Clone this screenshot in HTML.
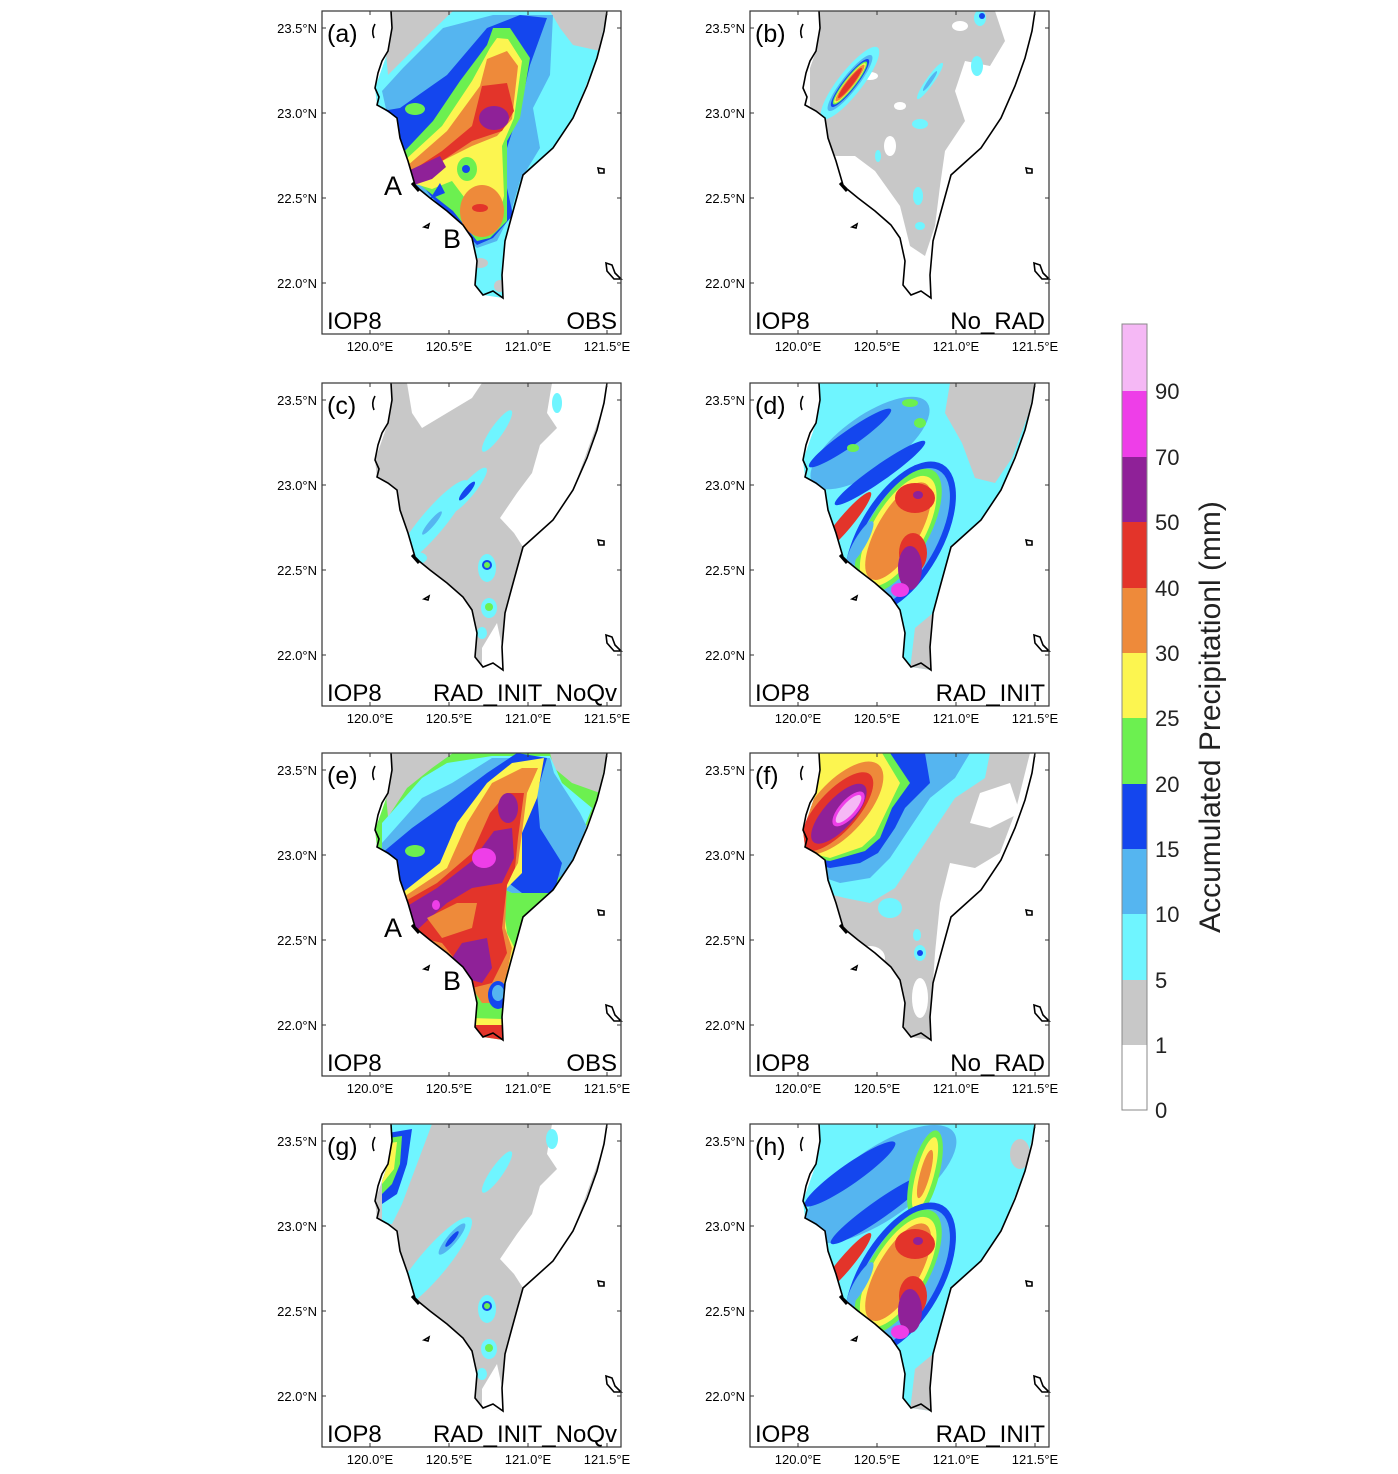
<!DOCTYPE html>
<html><head><meta charset="utf-8"><style>
html,body{margin:0;padding:0;background:#fff}
svg{display:block}
text{font-family:"Liberation Sans",sans-serif}
</style></head><body>
<svg width="1398" height="1474" viewBox="0 0 1398 1474" xmlns="http://www.w3.org/2000/svg">
<defs>
<clipPath id="land"><path d="M69,0.5 L70,17 L66,40 L53,77 L55,94 L75,107 L78,127 L86,150 L93,174 L108,187 L125,200 L141,214 L150,227 L155,250 L153,274 L161,284 L181,287 L180,264 L183,230 L190,204 L201,164 L231,137 L251,107 L275,47 L285,0.5 Z"/></clipPath>
<g id="coast" fill="none" stroke="#000" stroke-width="1.6">
<path d="M69,0 L70,17 L66,40 L60,50 L56,62 L53,77 L57,86 L55,94 L66,100 L75,107 L78,127 L86,150 L93,174 L97,178 L108,187 L125,200 L141,214 L150,227 L155,250 L153,274 L161,284 L171,280 L181,287 L180,264 L183,230 L190,204 L201,164 L231,137 L251,107 L265,75 L275,47 L282,20 L285,0"/>
<path d="M53,13 Q49,20 52,27"/>
<path d="M102,216 L107,213 L106,217 Z"/>
<path d="M276,157 L282,158 L282,162 L277,162 Z"/>
<path d="M284,252 L290,254 L293,262 L299,268 L292,268 L285,260 Z"/>
<path d="M90,172 L97,180" stroke-width="3"/>
</g>
<g id="frame"><rect x="0" y="0" width="299" height="323" fill="none" stroke="#333" stroke-width="1.2"/>
<path d="M0,17 h4 M0,102 h4 M0,187 h4 M0,272 h4 M299,17 h-4 M299,102 h-4 M299,187 h-4 M299,272 h-4 M48,323 v-4 M127,323 v-4 M206,323 v-4 M285,323 v-4 M48,0 v4 M127,0 v4 M206,0 v4 M285,0 v4" stroke="#333" stroke-width="1"/>
<g font-size="13" fill="#000" text-anchor="end"><text x="-5" y="22">23.5°N</text><text x="-5" y="107">23.0°N</text><text x="-5" y="192">22.5°N</text><text x="-5" y="277">22.0°N</text></g>
<g font-size="13" fill="#000" text-anchor="middle"><text x="48" y="340">120.0°E</text><text x="127" y="340">120.5°E</text><text x="206" y="340">121.0°E</text><text x="285" y="340">121.5°E</text></g>
</g>
</defs>

<!-- (a) -->
<g transform="translate(322,11)">
<g clip-path="url(#land)">
<rect x="0" y="0" width="299" height="323" fill="#6ff5ff"/>
<path d="M60,0 L131,0 L110,20 L85,45 L66,64 Z" fill="#c8c8c8"/>
<path d="M228,0 L290,0 L278,40 L251,34 L238,17 Z" fill="#c8c8c8"/>
<path d="M60,80 L81,57 L121,17 L171,4 L231,4 L228,64 L211,97 L218,137 L198,170 L188,204 L175,230 L155,237 L120,205 L80,170 Z" fill="#55b5f0"/>
<path d="M60,100 L78,97 L125,64 L165,17 L198,4 L225,7 L208,54 L198,97 L185,137 L185,177 L191,204 L171,227 L155,234 L108,184 L85,154 Z" fill="#1446ee"/>
<path d="M78,145 L111,110 L138,70 L165,34 L171,17 L188,17 L208,47 L198,107 L185,130 L185,184 L185,210 L168,227 L155,230 L131,200 L98,174 L80,170 Z" fill="#6cf050"/>
<ellipse cx="93" cy="98" rx="10" ry="6" fill="#6cf050"/>
<path d="M82,150 L120,115 L150,70 L168,37 L175,27 L186,28 L200,50 L192,107 L180,135 L182,185 L175,215 L160,222 L145,190 L130,170 L110,178 L90,172 Z" fill="#fcf550"/>
<ellipse cx="145" cy="158" rx="10" ry="12" fill="#6cf050"/>
<circle cx="144" cy="158" r="4" fill="#1446ee"/>
<path d="M123,182 L108,188 L118,172 Z" fill="#1446ee"/>
<path d="M85,155 L125,120 L158,75 L165,48 L185,40 L196,55 L190,108 L175,125 L150,135 L120,150 L100,165 L88,172 Z" fill="#ee8a3a"/>
<ellipse cx="160" cy="200" rx="22" ry="26" fill="#ee8a3a"/>
<path d="M85,163 L120,140 L150,115 L160,75 L185,72 L192,100 L180,120 L150,130 L120,150 L100,170 L88,174 Z" fill="#e3342a"/>
<ellipse cx="158" cy="197" rx="8" ry="4" fill="#e3342a"/>
<ellipse cx="172" cy="107" rx="15" ry="12" fill="#8f2198"/>
<path d="M86,160 L118,145 L124,156 L110,168 L92,174 Z" fill="#8f2198"/>
<ellipse cx="158" cy="252" rx="8" ry="5" fill="#c8c8c8"/>
<ellipse cx="178" cy="275" rx="6" ry="6" fill="#c8c8c8"/>
</g>
<use href="#coast"/><use href="#frame"/>
<text x="5" y="31" font-size="25">(a)</text>
<text x="5" y="318" font-size="24">IOP8</text><text x="295" y="318" font-size="24" text-anchor="end">OBS</text>
<text x="62" y="184" font-size="27">A</text><text x="121" y="237" font-size="27">B</text>
</g>

<!-- (b) -->
<g transform="translate(750,11)">
<g clip-path="url(#land)">
<path d="M60,0 L245,0 L255,30 L240,55 L215,50 L205,80 L215,110 L195,140 L190,175 L185,215 L175,245 L160,235 L150,195 L125,160 L105,145 L85,145 L70,110 L60,95 Z" fill="#c8c8c8"/>
<ellipse cx="120" cy="65" rx="8" ry="4" fill="#fff"/>
<ellipse cx="150" cy="95" rx="6" ry="4" fill="#fff"/>
<ellipse cx="140" cy="135" rx="6" ry="10" fill="#fff"/>
<ellipse cx="210" cy="15" rx="8" ry="5" fill="#fff"/>
<g transform="rotate(-52 100 72)">
<ellipse cx="100" cy="72" rx="45" ry="12" fill="#6ff5ff"/>
<ellipse cx="100" cy="72" rx="35" ry="8" fill="#55b5f0"/>
<ellipse cx="100" cy="72" rx="30" ry="6.5" fill="#1446ee"/>
<ellipse cx="100" cy="72" rx="27" ry="5.5" fill="#6cf050"/>
<ellipse cx="100" cy="72" rx="25" ry="4.5" fill="#fcf550"/>
<ellipse cx="100" cy="72" rx="23" ry="4" fill="#ee8a3a"/>
<ellipse cx="100" cy="72" rx="19" ry="3" fill="#e3342a"/>
</g>
<g transform="rotate(-55 180 70)"><ellipse cx="180" cy="70" rx="22" ry="4" fill="#6ff5ff"/><ellipse cx="180" cy="70" rx="12" ry="2" fill="#55b5f0"/></g>
<ellipse cx="227" cy="55" rx="6" ry="10" fill="#6ff5ff"/>
<ellipse cx="230" cy="7" rx="6" ry="8" fill="#6ff5ff"/><ellipse cx="232" cy="5" rx="3" ry="3" fill="#1446ee"/>
<ellipse cx="170" cy="113" rx="8" ry="5" fill="#6ff5ff"/>
<ellipse cx="168" cy="185" rx="5" ry="9" fill="#6ff5ff"/>
<ellipse cx="170" cy="215" rx="5" ry="4" fill="#6ff5ff"/>
<ellipse cx="128" cy="145" rx="3" ry="6" fill="#6ff5ff"/>
</g>
<use href="#coast"/><use href="#frame"/>
<text x="5" y="31" font-size="25">(b)</text>
<text x="5" y="318" font-size="24">IOP8</text><text x="295" y="318" font-size="24" text-anchor="end">No_RAD</text>
</g>

<!-- (c) -->
<g transform="translate(322,383)">
<g clip-path="url(#land)">
<rect x="0" y="0" width="299" height="323" fill="#c8c8c8"/>
<path d="M230,0 L290,0 L251,107 L231,137 L201,164 L192,150 L178,135 L195,110 L210,90 L218,62 L235,45 L225,30 Z" fill="#fff"/>
<path d="M85,0 L160,0 L150,15 L125,30 L100,45 L90,30 Z" fill="#fff"/>
<path d="M160,265 L175,240 L185,287 L160,287 Z" fill="#fff"/>
<g transform="rotate(-50 110 140)"><ellipse cx="110" cy="140" rx="55" ry="12" fill="#6ff5ff"/><ellipse cx="110" cy="140" rx="15" ry="3" fill="#55b5f0"/></g>
<g transform="rotate(-50 145 108)"><ellipse cx="145" cy="108" rx="30" ry="7" fill="#6ff5ff"/><ellipse cx="145" cy="108" rx="12" ry="3" fill="#1446ee"/></g>
<g transform="rotate(-55 175 48)"><ellipse cx="175" cy="48" rx="25" ry="6" fill="#6ff5ff"/></g>
<ellipse cx="235" cy="20" rx="5" ry="10" fill="#6ff5ff"/>
<ellipse cx="95" cy="175" rx="10" ry="6" fill="#6ff5ff"/>
<ellipse cx="165" cy="185" rx="9" ry="14" fill="#6ff5ff"/><ellipse cx="165" cy="182" rx="5" ry="5" fill="#1446ee"/><ellipse cx="165" cy="182" rx="3" ry="3" fill="#6cf050"/>
<ellipse cx="167" cy="225" rx="8" ry="10" fill="#6ff5ff"/><ellipse cx="167" cy="224" rx="4" ry="4" fill="#6cf050"/>
<ellipse cx="160" cy="250" rx="5" ry="6" fill="#6ff5ff"/>
</g>
<use href="#coast"/><use href="#frame"/>
<text x="5" y="31" font-size="25">(c)</text>
<text x="5" y="318" font-size="24">IOP8</text><text x="295" y="318" font-size="24" text-anchor="end">RAD_INIT_NoQv</text>
</g>

<!-- (d) -->
<g transform="translate(750,383)">
<g clip-path="url(#land)">
<rect x="0" y="0" width="299" height="323" fill="#6ff5ff"/>
<path d="M200,0 L290,0 L262,75 L245,100 L225,95 L212,60 L195,30 Z" fill="#c8c8c8"/>
<path d="M165,245 L183,230 L181,287 L160,287 Z" fill="#c8c8c8"/>
<g transform="rotate(-35 120 60)"><ellipse cx="120" cy="60" rx="70" ry="28" fill="#55b5f0"/></g>
<g transform="rotate(-35 100 55)"><ellipse cx="100" cy="55" rx="50" ry="8" fill="#1446ee"/></g>
<g transform="rotate(-35 130 90)"><ellipse cx="130" cy="90" rx="55" ry="8" fill="#1446ee"/></g>
<ellipse cx="160" cy="20" rx="8" ry="4" fill="#6cf050"/>
<ellipse cx="170" cy="40" rx="6" ry="5" fill="#6cf050"/>
<ellipse cx="103" cy="65" rx="6" ry="4" fill="#6cf050"/>
<g transform="rotate(-60 150 155)">
<ellipse cx="150" cy="155" rx="85" ry="42" fill="#1446ee"/>
<ellipse cx="150" cy="155" rx="78" ry="36" fill="#55b5f0"/>
<ellipse cx="155" cy="150" rx="70" ry="30" fill="#6cf050"/>
<ellipse cx="155" cy="150" rx="62" ry="26" fill="#fcf550"/>
<ellipse cx="155" cy="150" rx="55" ry="21" fill="#ee8a3a"/>
</g>
<ellipse cx="165" cy="115" rx="20" ry="15" fill="#e3342a"/>
<ellipse cx="168" cy="112" rx="5" ry="4" fill="#8f2198"/>
<ellipse cx="163" cy="170" rx="14" ry="20" fill="#e3342a"/>
<ellipse cx="160" cy="185" rx="12" ry="22" fill="#8f2198"/>
<ellipse cx="150" cy="207" rx="9" ry="7" fill="#ee3ee8"/>
<g transform="rotate(-50 95 140)"><ellipse cx="95" cy="140" rx="40" ry="7" fill="#e3342a"/></g>
<g transform="rotate(-60 110 160)"><ellipse cx="110" cy="160" rx="25" ry="6" fill="#55b5f0"/></g>
</g>
<use href="#coast"/><use href="#frame"/>
<text x="5" y="31" font-size="25">(d)</text>
<text x="5" y="318" font-size="24">IOP8</text><text x="295" y="318" font-size="24" text-anchor="end">RAD_INIT</text>
</g>

<!-- (e) -->
<g transform="translate(322,753)">
<g clip-path="url(#land)">
<rect x="0" y="0" width="299" height="323" fill="#6cf050"/>
<path d="M60,0 L131,0 L110,15 L85,35 L66,64 Z" fill="#c8c8c8"/>
<path d="M228,0 L290,0 L278,40 L250,30 L232,15 Z" fill="#c8c8c8"/>
<path d="M60,70 L100,25 L125,10 L170,3 L228,3 L240,30 L270,55 L262,75 L240,90 L235,125 L210,140 L190,140 L170,130 L150,110 L100,130 L60,130 Z" fill="#6ff5ff"/>
<path d="M60,90 L100,45 L130,30 L170,5 L228,5 L232,20 L258,60 L268,80 L253,115 L236,125 L230,140 L190,140 L170,130 L150,110 L100,130 L60,130 Z" fill="#55b5f0"/>
<path d="M60,100 L90,75 L125,50 L165,20 L195,0 L225,5 L215,40 L218,75 L240,110 L232,140 L200,140 L180,125 L100,140 L60,140 Z" fill="#1446ee"/>
<ellipse cx="93" cy="98" rx="10" ry="6" fill="#6cf050"/>
<path d="M80,140 L118,110 L135,70 L165,30 L190,10 L222,5 L215,45 L200,80 L200,120 L180,140 L185,180 L195,200 L178,240 L155,240 L130,210 L90,180 Z" fill="#fcf550"/>
<path d="M80,145 L125,115 L145,70 L170,30 L200,15 L216,15 L205,40 L200,80 L196,110 L185,130 L183,175 L190,195 L185,220 L175,250 L160,250 L140,220 L95,185 Z" fill="#ee8a3a"/>
<path d="M80,150 L115,130 L150,100 L168,60 L185,40 L202,40 L196,85 L193,115 L185,132 L180,175 L185,200 L170,230 L150,235 L140,215 L120,190 L100,185 Z" fill="#e3342a"/>
<path d="M82,155 L115,135 L150,108 L172,78 L190,75 L192,105 L180,130 L150,135 L125,150 L108,165 L92,180 Z" fill="#8f2198"/>
<ellipse cx="186" cy="55" rx="10" ry="15" fill="#8f2198"/>
<path d="M140,190 L165,185 L170,215 L160,230 L142,225 L130,205 Z" fill="#8f2198"/>
<ellipse cx="162" cy="105" rx="12" ry="10" fill="#ee3ee8"/>
<ellipse cx="114" cy="152" rx="4" ry="5" fill="#ee3ee8"/>
<path d="M105,165 L135,150 L155,150 L150,175 L120,185 Z" fill="#ee8a3a"/>
<ellipse cx="176" cy="242" rx="10" ry="14" fill="#1446ee"/><ellipse cx="176" cy="240" rx="6" ry="8" fill="#55b5f0"/>
<path d="M150,270 L180,270 L181,287 L155,287 Z" fill="#e3342a"/>
<path d="M150,265 L180,266 L180,272 L150,272 Z" fill="#fcf550"/>
</g>
<use href="#coast"/><use href="#frame"/>
<text x="5" y="31" font-size="25">(e)</text>
<text x="5" y="318" font-size="24">IOP8</text><text x="295" y="318" font-size="24" text-anchor="end">OBS</text>
<text x="62" y="184" font-size="27">A</text><text x="121" y="237" font-size="27">B</text>
</g>

<!-- (f) -->
<g transform="translate(750,753)">
<g clip-path="url(#land)">
<path d="M60,0 L280,0 L265,60 L250,100 L225,115 L200,110 L190,150 L185,200 L183,230 L180,287 L155,287 L150,230 L120,200 L100,185 L80,150 L60,120 Z" fill="#c8c8c8"/>
<path d="M230,40 L260,30 L270,60 L240,75 L220,70 Z" fill="#fff"/>
<ellipse cx="120" cy="205" rx="15" ry="12" fill="#fff"/>
<ellipse cx="170" cy="245" rx="8" ry="20" fill="#fff"/>
<path d="M60,0 L240,0 L235,25 L205,45 L185,75 L165,105 L145,135 L120,150 L95,145 L75,140 L60,130 Z" fill="#6ff5ff"/>
<path d="M60,0 L220,0 L205,25 L180,45 L160,75 L140,105 L120,125 L90,130 L60,120 Z" fill="#55b5f0"/>
<path d="M60,0 L175,0 L180,30 L155,55 L145,75 L128,100 L110,110 L80,115 L60,110 Z" fill="#1446ee"/>
<path d="M60,0 L140,0 L160,30 L142,55 L130,85 L115,98 L80,108 L60,105 Z" fill="#6cf050"/>
<path d="M60,0 L132,0 L150,30 L138,55 L125,82 L112,94 L80,105 L60,100 Z" fill="#fcf550"/>
<g transform="rotate(-48 90 55)">
<ellipse cx="90" cy="55" rx="58" ry="26" fill="#ee8a3a"/>
<ellipse cx="85" cy="55" rx="50" ry="20" fill="#e3342a"/>
<ellipse cx="85" cy="58" rx="38" ry="15" fill="#8f2198"/>
<ellipse cx="95" cy="62" rx="22" ry="9" fill="#ee3ee8"/>
<ellipse cx="95" cy="62" rx="18" ry="6" fill="#f5b8f5"/>
</g>
<ellipse cx="170" cy="200" rx="6" ry="8" fill="#6ff5ff"/><ellipse cx="170" cy="200" rx="3" ry="3" fill="#1446ee"/>
<ellipse cx="167" cy="182" rx="4" ry="6" fill="#6ff5ff"/>
<ellipse cx="140" cy="155" rx="12" ry="10" fill="#6ff5ff"/>
</g>
<use href="#coast"/><use href="#frame"/>
<text x="5" y="31" font-size="25">(f)</text>
<text x="5" y="318" font-size="24">IOP8</text><text x="295" y="318" font-size="24" text-anchor="end">No_RAD</text>
</g>

<!-- (g) -->
<g transform="translate(322,1124)">
<g clip-path="url(#land)">
<rect x="0" y="0" width="299" height="323" fill="#c8c8c8"/>
<path d="M230,0 L290,0 L251,107 L231,137 L201,164 L192,150 L178,135 L195,110 L210,90 L218,62 L235,45 L225,30 Z" fill="#fff"/>
<path d="M160,265 L175,240 L185,287 L160,287 Z" fill="#fff"/>
<path d="M60,0 L110,0 L95,40 L80,80 L70,100 L60,100 Z" fill="#6ff5ff"/>
<path d="M60,10 L90,5 L85,40 L75,70 L60,80 Z" fill="#1446ee"/>
<path d="M60,15 L80,12 L78,40 L70,60 L60,70 Z" fill="#6cf050"/>
<path d="M60,20 L75,18 L72,45 L60,60 Z" fill="#fcf550"/>
<g transform="rotate(-50 110 140)"><ellipse cx="110" cy="140" rx="60" ry="14" fill="#6ff5ff"/></g>
<g transform="rotate(-50 130 115)"><ellipse cx="130" cy="115" rx="20" ry="5" fill="#55b5f0"/><ellipse cx="130" cy="115" rx="10" ry="2.5" fill="#1446ee"/></g>
<g transform="rotate(-55 175 48)"><ellipse cx="175" cy="48" rx="25" ry="6" fill="#6ff5ff"/></g>
<ellipse cx="230" cy="15" rx="6" ry="10" fill="#6ff5ff"/>
<ellipse cx="165" cy="185" rx="9" ry="14" fill="#6ff5ff"/><ellipse cx="165" cy="182" rx="5" ry="5" fill="#1446ee"/><ellipse cx="165" cy="182" rx="3" ry="3" fill="#6cf050"/>
<ellipse cx="167" cy="225" rx="8" ry="10" fill="#6ff5ff"/><ellipse cx="167" cy="224" rx="4" ry="4" fill="#6cf050"/>
<ellipse cx="160" cy="250" rx="5" ry="6" fill="#6ff5ff"/>
</g>
<use href="#coast"/><use href="#frame"/>
<text x="5" y="31" font-size="25">(g)</text>
<text x="5" y="318" font-size="24">IOP8</text><text x="295" y="318" font-size="24" text-anchor="end">RAD_INIT_NoQv</text>
</g>

<!-- (h) -->
<g transform="translate(750,1124)">
<g clip-path="url(#land)">
<rect x="0" y="0" width="299" height="323" fill="#6ff5ff"/>
<path d="M165,245 L183,230 L181,287 L160,287 Z" fill="#c8c8c8"/>
<ellipse cx="270" cy="30" rx="10" ry="15" fill="#c8c8c8"/>
<g transform="rotate(-35 130 60)"><ellipse cx="130" cy="60" rx="90" ry="35" fill="#55b5f0"/></g>
<g transform="rotate(-35 100 50)"><ellipse cx="100" cy="50" rx="55" ry="10" fill="#1446ee"/></g>
<g transform="rotate(-35 130 85)"><ellipse cx="130" cy="85" rx="60" ry="9" fill="#1446ee"/></g>
<g transform="rotate(-75 175 50)"><ellipse cx="175" cy="50" rx="45" ry="14" fill="#6cf050"/><ellipse cx="175" cy="50" rx="38" ry="9" fill="#fcf550"/><ellipse cx="175" cy="50" rx="25" ry="5" fill="#ee8a3a"/></g>
<g transform="rotate(-60 150 155)">
<ellipse cx="150" cy="155" rx="85" ry="42" fill="#1446ee"/>
<ellipse cx="150" cy="155" rx="78" ry="36" fill="#55b5f0"/>
<ellipse cx="155" cy="150" rx="70" ry="30" fill="#6cf050"/>
<ellipse cx="155" cy="150" rx="62" ry="26" fill="#fcf550"/>
<ellipse cx="155" cy="150" rx="55" ry="21" fill="#ee8a3a"/>
</g>
<ellipse cx="165" cy="120" rx="20" ry="15" fill="#e3342a"/>
<ellipse cx="168" cy="117" rx="5" ry="4" fill="#8f2198"/>
<ellipse cx="163" cy="172" rx="14" ry="20" fill="#e3342a"/>
<ellipse cx="160" cy="187" rx="12" ry="22" fill="#8f2198"/>
<ellipse cx="150" cy="208" rx="9" ry="7" fill="#ee3ee8"/>
<g transform="rotate(-50 95 140)"><ellipse cx="95" cy="140" rx="40" ry="7" fill="#e3342a"/></g>
<g transform="rotate(-60 110 160)"><ellipse cx="110" cy="160" rx="25" ry="6" fill="#55b5f0"/></g>
</g>
<use href="#coast"/><use href="#frame"/>
<text x="5" y="31" font-size="25">(h)</text>
<text x="5" y="318" font-size="24">IOP8</text><text x="295" y="318" font-size="24" text-anchor="end">RAD_INIT</text>
</g>

<!-- colorbar -->
<g>
<rect x="1122" y="1045" width="25" height="65" fill="#fff"/>
<rect x="1122" y="980" width="25" height="65" fill="#c8c8c8"/>
<rect x="1122" y="914" width="25" height="66" fill="#6ff5ff"/>
<rect x="1122" y="849" width="25" height="65" fill="#55b5f0"/>
<rect x="1122" y="784" width="25" height="65" fill="#1446ee"/>
<rect x="1122" y="718" width="25" height="66" fill="#6cf050"/>
<rect x="1122" y="653" width="25" height="65" fill="#fcf550"/>
<rect x="1122" y="588" width="25" height="65" fill="#ee8a3a"/>
<rect x="1122" y="522" width="25" height="66" fill="#e3342a"/>
<rect x="1122" y="457" width="25" height="65" fill="#8f2198"/>
<rect x="1122" y="391" width="25" height="66" fill="#ee3ee8"/>
<rect x="1122" y="324" width="25" height="67" fill="#f5b8f5"/>
<rect x="1122" y="324" width="25" height="786" fill="none" stroke="#888" stroke-width="1"/>
<g font-size="22" fill="#222">
<text x="1155" y="1118">0</text><text x="1155" y="1053">1</text><text x="1155" y="988">5</text>
<text x="1155" y="922">10</text><text x="1155" y="857">15</text><text x="1155" y="792">20</text>
<text x="1155" y="726">25</text><text x="1155" y="661">30</text><text x="1155" y="596">40</text>
<text x="1155" y="530">50</text><text x="1155" y="465">70</text><text x="1155" y="399">90</text>
</g>
<text transform="translate(1220,717) rotate(-90)" font-size="30" fill="#222" text-anchor="middle">Accumulated Precipitationl (mm)</text>
</g>
</svg>
</body></html>
